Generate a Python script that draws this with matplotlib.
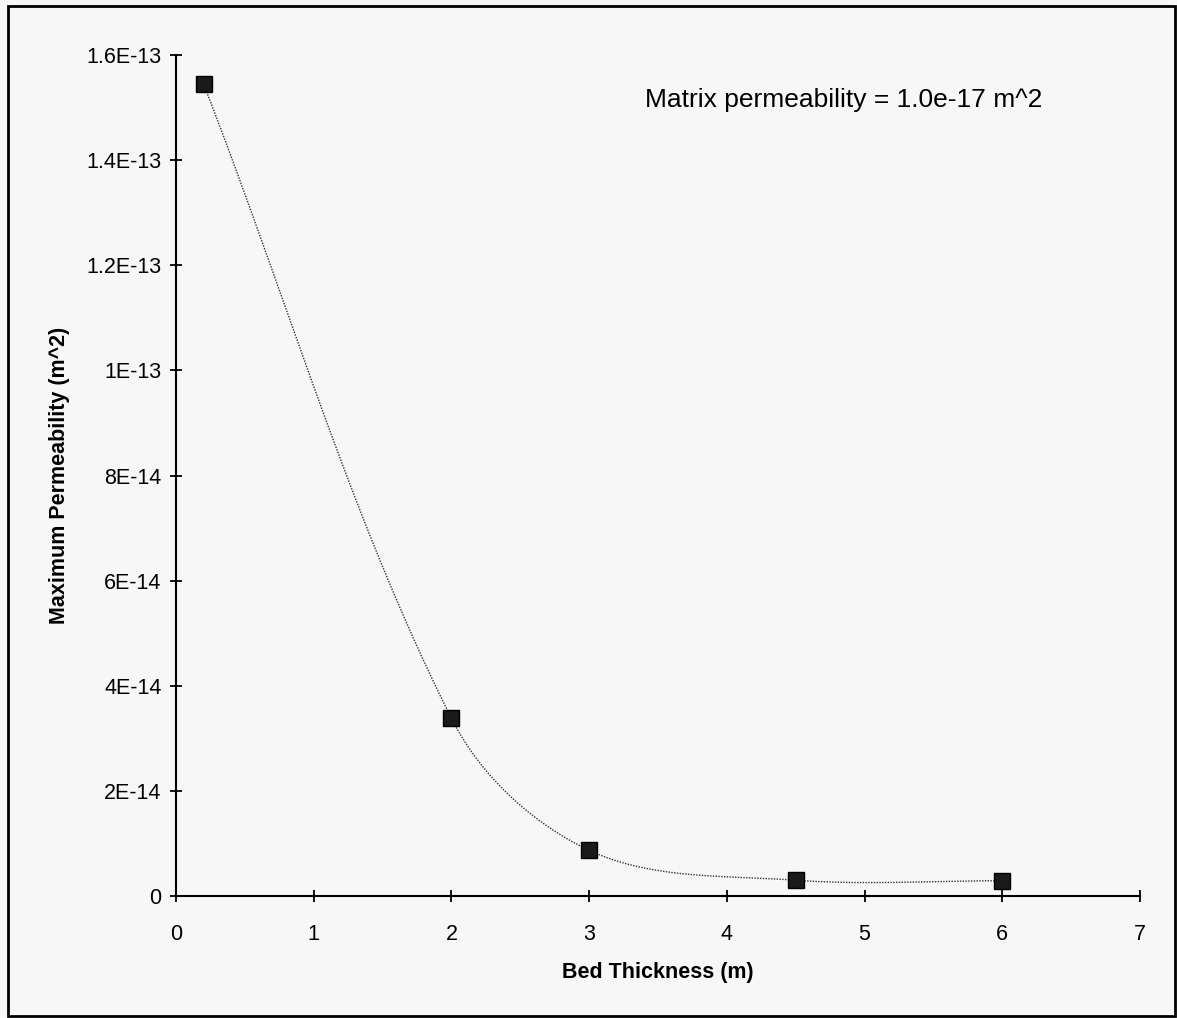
import numpy as np
import matplotlib
matplotlib.use("Agg")
import matplotlib.pyplot as plt
from matplotlib.patches import Rectangle

# datos
espesor = [0.2, 2.0, 3.0, 4.5, 6.0]
perm_max = [1.545e-13, 3.38e-14, 8.7e-15, 3.0e-15, 2.9e-15]

x_ticks = [0, 1, 2, 3, 4, 5, 6, 7]
y_ticks = [0, 2e-14, 4e-14, 6e-14, 8e-14, 1e-13, 1.2e-13, 1.4e-13, 1.6e-13]
y_tick_labels = ["0", "2E-14", "4E-14", "6E-14", "8E-14", "1E-13", "1.2E-13", "1.4E-13", "1.6E-13"]

plt.rcParams['font.family'] = ['Liberation Sans', 'DejaVu Sans']

fig = plt.figure(figsize=(11.77, 10.18), dpi=100, facecolor='#f7f7f7')
ax = fig.add_axes([176/1177, 122/1018, (1140-176)/1177, (963-122)/1018])
ax.set_facecolor('#f7f7f7')

ax.set_xlim(0, 7)
ax.set_ylim(0, 1.6e-13)

# suavizado tipo Excel: Bezier en coordenadas de pantalla,
# tangente en cada punto y brazos de 1/3 de la longitud del tramo
def curva_suave(ax, xs, ys, n=80):
    P = ax.transData.transform(np.column_stack([xs, ys]))
    tang = []
    for i in range(len(P)):
        a = P[max(i - 1, 0)]
        b = P[min(i + 1, len(P) - 1)]
        d = b - a
        tang.append(d / np.hypot(*d))
    t = np.linspace(0, 1, n)[:, None]
    out = []
    for i in range(len(P) - 1):
        p1, p2 = P[i], P[i + 1]
        L = np.hypot(*(p2 - p1)) / 3
        b1 = p1 + tang[i] * L
        b2 = p2 - tang[i + 1] * L
        seg = ((1 - t) ** 3) * p1 + 3 * ((1 - t) ** 2) * t * b1 + 3 * (1 - t) * t ** 2 * b2 + t ** 3 * p2
        out.append(seg)
    out = np.vstack(out)
    return ax.transData.inverted().transform(out)

curva = curva_suave(ax, espesor, perm_max)
ax.plot(curva[:, 0], curva[:, 1], color='#333333', linewidth=1.0, linestyle=(0, (1, 1)))
ax.plot(espesor, perm_max, linestyle='none', marker='s', markersize=11,
        markerfacecolor='#1a1a1a', markeredgecolor='black', clip_on=False, zorder=3)

ax.spines['top'].set_visible(False)
ax.spines['right'].set_visible(False)
ax.spines['left'].set_linewidth(1.5)
ax.spines['bottom'].set_linewidth(1.5)

ax.set_xticks(x_ticks)
ax.set_yticks(y_ticks)
ax.set_yticklabels(y_tick_labels)
ax.tick_params(axis='both', direction='inout', length=9, width=1.3, labelsize=15.5)
ax.tick_params(axis='x', pad=16)
ax.tick_params(axis='y', pad=6)

ax.set_xlabel("Bed Thickness (m)", fontsize=15.5, fontweight='bold', labelpad=12)
ax.set_ylabel("Maximum Permeability (m^2)", fontsize=15.5, fontweight='bold', labelpad=12)

ax.text(0.693, 0.946, "Matrix permeability = 1.0e-17 m^2", transform=ax.transAxes,
        ha='center', va='center', fontsize=19)

# marco exterior
fig.patches.append(Rectangle((8/1177, 2/1018), (1175-8)/1177, (1012-2)/1018,
                             transform=fig.transFigure, fill=False,
                             edgecolor='black', linewidth=2))

fig.savefig("out.png", dpi=100, facecolor=fig.get_facecolor())
